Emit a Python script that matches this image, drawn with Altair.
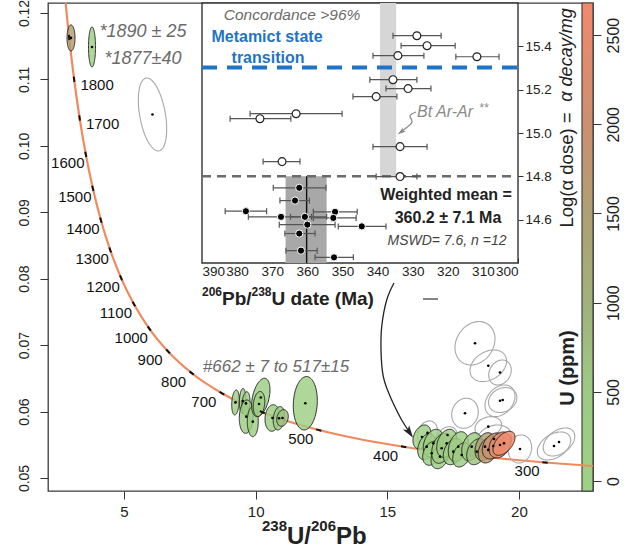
import altair as alt
import numpy as np
import pandas as pd

# ---------------- Concordia curve (Tera-Wasserburg), ages in Ma ----------------
cc_age = [276, 300, 350, 400, 450, 500, 550, 600, 700, 800, 900, 1000,
          1100, 1200, 1300, 1400, 1500, 1600, 1700, 1800, 1900, 1950, 2000]
cc_x = [22.860, 20.992, 17.923, 15.621, 13.831, 12.399, 11.228, 10.252, 8.718,
        7.568, 6.675, 5.959, 5.375, 4.888, 4.476, 4.123, 3.817, 3.550, 3.314,
        3.105, 2.917, 2.831, 2.749]
cc_y = [0.051787, 0.052333, 0.053499, 0.054701, 0.055940, 0.057220, 0.058539,
        0.059901, 0.062756, 0.065800, 0.069044, 0.072500, 0.076187, 0.080122,
        0.084322, 0.088807, 0.093597, 0.098716, 0.104186, 0.110036, 0.116293,
        0.119583, 0.122987]
tick_ages = [300, 400, 500, 600, 700, 800, 900, 1000, 1100, 1200, 1300, 1400,
             1500, 1600, 1700, 1800, 1900]
label_right_ages = [1800, 1700]
label_left_ages = [1600, 1500, 1400, 1300, 1200, 1100, 1000, 900, 800, 700, 500, 400, 300]

# ---------------- U-coloured error ellipses ----------------
col_id = ["E1", "E2", "M1", "M2", "M3", "M4", "M5", "M6", "M7", "M8", "M9", "M10", "M11",
          "C0", "C1", "C2", "C9", "C8", "C3", "C4", "C5", "C6", "C7", "C10", "C11",
          "C12", "C13", "C14", "C15", "C16"]
col_x = [2.988, 3.785, 9.235, 9.508, 9.634, 9.645, 9.892, 10.196, 10.128, 10.640, 10.887,
         11.020, 11.886, 16.318, 16.497, 16.748, 16.687, 17.002, 17.067, 17.257, 17.507,
         17.697, 17.826, 18.206, 18.396, 18.711, 18.836, 19.026, 19.281, 19.433]
col_y = [0.11624, 0.11488, 0.06137, 0.06159, 0.06122, 0.05923, 0.05848, 0.06212, 0.06114,
         0.05903, 0.05899, 0.05903, 0.06125, 0.05617, 0.05471, 0.05522, 0.05372, 0.05321,
         0.05447, 0.05522, 0.05396, 0.05471, 0.05346, 0.05471, 0.05396, 0.05471, 0.05422,
         0.05482, 0.05497, 0.05522]
col_sx = [0.152, 0.133, 0.144, 0.125, 0.152, 0.266, 0.209, 0.349, 0.220, 0.285, 0.220,
          0.220, 0.456, 0.342, 0.342, 0.380, 0.342, 0.342, 0.380, 0.380, 0.380, 0.380,
          0.342, 0.380, 0.380, 0.380, 0.380, 0.418, 0.418, 0.418]
col_sy = [0.00196, 0.00301, 0.00188, 0.00188, 0.00176, 0.00251, 0.00226, 0.00289, 0.00188,
          0.00200, 0.00176, 0.00125, 0.00402, 0.00181, 0.00196, 0.00211, 0.00181, 0.00181,
          0.00226, 0.00211, 0.00196, 0.00226, 0.00181, 0.00211, 0.00196, 0.00211, 0.00196,
          0.00196, 0.00196, 0.00181]
col_rho = [0.0, 0.0, 0.2, 0.1, 0.2, 0.1, 0.0, 0.4, 0.2, 0.1, 0.2, 0.2, 0.1,
           0.3, 0.3, 0.3, 0.3, 0.3, 0.3, 0.3, 0.3, 0.3, 0.3, 0.3, 0.3, 0.3, 0.3, 0.3, 0.3, 0.5]
col_U = [1600, 250, 300, 280, 320, 260, 300, 280, 350, 300, 450, 700, 250,
         200, 250, 300, 250, 300, 350, 400, 300, 350, 400, 500, 700, 1400, 1700, 2000, 2300, 2600]

# ---------------- grey (discordant) ellipses ----------------
gr_id = ["E3", "R1", "R2", "R3", "R4", "R5", "R6", "R7", "R8", "R9", "R10", "R11", "R12", "R13"]
gr_x = [6.083, 18.331, 18.836, 19.281, 19.281, 19.383, 17.951, 18.836, 19.053, 20.040,
        21.332, 21.522, 16.527, 17.287]
gr_y = [0.10472, 0.07028, 0.06689, 0.06588, 0.06162, 0.06174, 0.05974, 0.05772, 0.05587,
        0.05437, 0.05482, 0.05542, 0.05678, 0.05647]
gr_sx = [0.539, 0.760, 0.695, 0.429, 0.570, 0.539, 0.505, 0.505, 0.665, 0.444, 0.634, 0.600,
         0.380, 0.349]
gr_sy = [0.00549, 0.00327, 0.00238, 0.00188, 0.00238, 0.00188, 0.00226, 0.00151, 0.00211,
         0.00211, 0.00211, 0.00211, 0.00181, 0.00125]
gr_rho = [-0.4, 0.2, 0.3, 0.2, 0.3, 0.2, 0.1, 0.2, 0.2, 0.1, 0.4, 0.4, 0.2, 0.2]

# ---------------- inset: 206Pb/238U dates vs log alpha dose ----------------
open_date = [328.8, 325.9, 334.2, 311.7, 335.6, 331.3, 340.4, 363.2, 373.5, 333.6, 367.2, 333.6]
open_lo = [335.6, 333.3, 341.3, 317.7, 342.2, 337.6, 347.0, 376.3, 382.0, 341.3, 372.6, 340.4]
open_hi = [321.9, 317.9, 326.8, 305.4, 328.8, 324.8, 334.5, 350.1, 364.7, 325.9, 362.1, 328.8]
open_dose = [15.449, 15.403, 15.357, 15.352, 15.246, 15.205, 15.168, 15.089, 15.066, 14.937,
             14.868, 14.799]
fill_date = [362.3, 363.5, 377.5, 352.1, 367.5, 360.7, 352.6, 360.0, 344.5, 362.3, 361.8, 352.4]
fill_lo = [369.7, 367.8, 383.4, 358.3, 376.8, 364.8, 358.3, 368.0, 351.2, 366.4, 366.1, 357.8]
fill_hi = [354.7, 359.4, 371.6, 345.8, 358.8, 354.5, 346.1, 352.1, 337.6, 357.8, 357.2, 346.9]
fill_dose = [14.747, 14.688, 14.639, 14.636, 14.613, 14.613, 14.608, 14.577, 14.569, 14.536,
             14.457, 14.426]
metamict_dose = 15.302
concord_dose = 14.80
ar_band = [334.7, 339.3]
wm_band = [354.5, 366.2]
wm_mean = 360.2

# ---------------- annotation arrows (data coordinates) ----------------
arrow_x = [15.255, 14.978, 14.788, 14.761, 14.849, 15.168, 15.547, 15.882]
arrow_y = [0.07935, 0.07679, 0.07277, 0.06926, 0.06524, 0.06174, 0.05873, 0.05669]
bt_x = [329.05, 330.76, 330.19, 331.9, 333.18]
bt_y = [15.097, 15.079, 15.051, 15.023, 15.007]

# ---------------- scale domains / colour ramp ----------------
main_x_domain = [2.114, 22.813]
main_y_domain = [0.04804, 0.1215]
inset_x_domain = [390, 300]
inset_y_domain = [14.40, 15.60]
u_bar_domain = [-56, 2680]
u_stops = [0, 500, 1000, 1500, 2000, 2680]
u_colors = ["#9ed184", "#9dca84", "#a1b17c", "#af9f74", "#cc8f6f", "#f2896b"]

# ---------------- styling ----------------
W, H = 545, 488
SANS = "Liberation Sans, Arial, sans-serif"
NARROW = "Liberation Sans Narrow, Liberation Sans, Arial, sans-serif"
ORANGE = "#f08a5e"
GREYTXT = "#6b6b6b"
ONE = pd.DataFrame({"k": [0]})

xs_main = alt.Scale(domain=main_x_domain, nice=False, zero=False)
ys_main = alt.Scale(domain=main_y_domain, nice=False, zero=False)
xs_in = alt.Scale(domain=inset_x_domain, range=[154, 470], nice=False, zero=False)
ys_in = alt.Scale(domain=inset_y_domain, range=[260, 0], nice=False, zero=False)
ys_bar = alt.Scale(domain=u_bar_domain, nice=False, zero=False)
u_scale = alt.Scale(domain=u_stops, range=u_colors, interpolate="rgb")

ax_main_x = alt.Axis(
    orient="bottom", values=[5, 10, 15, 20], title="", tickSize=8, labelPadding=5,
    labelFontSize=15, labelFont=SANS, labelColor="#222", tickColor="#333",
    domain=False, grid=False)
ax_main_y = alt.Axis(
    orient="left", values=[0.05, 0.06, 0.07, 0.08, 0.09, 0.10, 0.11, 0.12], format=".2f",
    labelAngle=270, labelAlign="center", labelBaseline="bottom", tickSize=8,
    labelPadding=9, labelFontSize=14, labelFont=SANS, labelColor="#222",
    tickColor="#333", domain=False, grid=False, title="")
ax_in_x = alt.Axis(
    orient="bottom", offset=-233, values=list(range(300, 391, 10)), tickSize=5,
    labelPadding=1, labelFontSize=13.5, labelFont=SANS, labelColor="#222", tickColor="#333",
    domain=False, grid=False, title="")
ax_in_y = alt.Axis(
    orient="right", offset=-75, values=[14.6, 14.8, 15.0, 15.2, 15.4], format=".1f",
    tickSize=5, labelPadding=2, labelFontSize=13.5, labelFont=SANS, labelColor="#222",
    tickColor="#333", domain=False, grid=False, title="")
ax_bar = alt.Axis(
    orient="right", values=[0, 500, 1000, 1500, 2000, 2500], format="d", tickSize=8,
    labelAngle=270, labelAlign="center", labelBaseline="top", labelPadding=4,
    labelFontSize=16, labelFont=SANS, labelColor="#222", tickColor="#333",
    domain=False, grid=False, title="")


def txt(text, x, y, size, color="#222", weight="normal", style="normal", font=SANS,
        align="center", baseline="alphabetic", angle=0):
    props = dict(text=text, fontSize=size, color=color, fontWeight=weight, fontStyle=style,
                 font=font, align=align, baseline=baseline)
    if angle:
        props["angle"] = angle
    return alt.Chart(ONE).mark_text(**props).encode(x=alt.value(x), y=alt.value(y))


def ellipse_df(ids, xs, ys, sxs, sys_, rhos, us=None):
    th = np.linspace(np.pi, 0.0, 48)
    c, s = np.cos(th), np.sin(th)
    rows = []
    for k in range(len(ids)):
        mid = ys[k] + rhos[k] * sys_[k] * c
        half = sys_[k] * np.sqrt(1 - rhos[k] ** 2) * s
        for j in range(len(th)):
            rows.append({"id": ids[k], "x": xs[k] + sxs[k] * c[j],
                         "lo": mid[j] - half[j], "hi": mid[j] + half[j],
                         "U": us[k] if us is not None else 0})
    return pd.DataFrame(rows)


# ================= colour bar =================
bar_df = pd.DataFrame({"lo": [u_bar_domain[0]], "hi": [u_bar_domain[1]]})
span = u_bar_domain[1] - u_bar_domain[0]
stops = [alt.GradientStop(color=u_colors[0], offset=0)] + [
    alt.GradientStop(color=c, offset=(u - u_bar_domain[0]) / span) for u, c in zip(u_stops, u_colors)]
bar = alt.Chart(bar_df).mark_rect(
    fill=alt.Gradient(gradient="linear", stops=stops, x1=0, x2=0, y1=1, y2=0),
    stroke="#444", strokeWidth=1.2
).encode(
    x=alt.value(534), x2=alt.value(545),
    y=alt.Y("lo:Q", scale=ys_bar, axis=ax_bar),
    y2="hi:Q",
)
bar_layer = alt.layer(
    bar,
    txt("U (ppm)", 520, 365, 20, weight="bold", baseline="middle", angle=270),
    txt("Log(α dose) =", 519, 167, 18.5, baseline="middle", angle=270),
    txt("α decay/mg", 519, 52, 18, style="italic", baseline="middle", angle=270),
    # main x-axis title 238U/206Pb with real superscripts
    txt("238", 214, 528, 15, weight="bold", align="left"),
    txt("U/", 239, 541, 24, weight="bold", align="left"),
    txt("206", 263, 528, 15, weight="bold", align="left"),
    txt("Pb", 288, 541, 24, weight="bold", align="left"),
)

# ================= main concordia plot =================
curve_df = pd.DataFrame({"age": cc_age, "x": cc_x, "y": cc_y})
kx = W / (main_x_domain[1] - main_x_domain[0])
ky = H / (main_y_domain[1] - main_y_domain[0])
tick_rows = []
for a in tick_ages:
    i = cc_age.index(a)
    dxp = (cc_x[i + 1] - cc_x[i - 1]) * kx
    dyp = -(cc_y[i + 1] - cc_y[i - 1]) * ky
    tick_rows.append({"age": a, "x": cc_x[i], "y": cc_y[i],
                      "ang": float(np.degrees(np.arctan2(dyp, dxp)) % 180)})
tick_df = pd.DataFrame(tick_rows)
lab_r = tick_df[tick_df.age.isin(label_right_ages)]
lab_l = tick_df[tick_df.age.isin(label_left_ages)]

# every layer of a group carries the same axis definition so the shared axis merges cleanly
X = lambda f: alt.X(f, scale=xs_main, axis=ax_main_x)
Y = lambda f: alt.Y(f, scale=ys_main, axis=ax_main_y)

curve = alt.Chart(curve_df).mark_line(color=ORANGE, strokeWidth=2.2, clip=True,
                                      interpolate="monotone").encode(x=X("x:Q"), y=Y("y:Q"))
ticks = alt.Chart(tick_df).mark_point(shape="M-1,0L1,0", size=28, strokeWidth=2,
                                      color="#111", opacity=1).encode(
    x=X("x:Q"), y=Y("y:Q"), angle=alt.Angle("ang:Q", scale=None))
labels_l = alt.Chart(lab_l).mark_text(dx=-18, dy=9, fontSize=15, font=SANS, color="#111").encode(
    x=X("x:Q"), y=Y("y:Q"), text=alt.Text("age:Q", format="d"))
labels_r = alt.Chart(lab_r).mark_text(dx=23, dy=6, fontSize=15, font=SANS, color="#111").encode(
    x=X("x:Q"), y=Y("y:Q"), text=alt.Text("age:Q", format="d"))

grey_ell = alt.Chart(ellipse_df(gr_id, gr_x, gr_y, gr_sx, gr_sy, gr_rho)).mark_area(
    color="#aaaaaa", fillOpacity=0, stroke="#a8a8a8", strokeWidth=1.1).encode(
    x=X("x:Q"), y=Y("lo:Q"), y2="hi:Q", detail="id:N")
col_ell = alt.Chart(ellipse_df(col_id, col_x, col_y, col_sx, col_sy, col_rho, col_U)).mark_area(
    fillOpacity=0.82, stroke="#1c1c1c", strokeWidth=0.9).encode(
    x=X("x:Q"), y=Y("lo:Q"), y2="hi:Q", detail="id:N",
    color=alt.Color("U:Q", scale=u_scale, legend=None))
centers = pd.DataFrame({"x": col_x + gr_x, "y": col_y + gr_y})
dots = alt.Chart(centers).mark_circle(size=7, color="#000", opacity=1).encode(
    x=X("x:Q"), y=Y("y:Q"))

arrow_df = pd.DataFrame({"k": list(range(len(arrow_x))), "x": arrow_x, "y": arrow_y})
arrow = alt.Chart(arrow_df).mark_line(color="#222", strokeWidth=1.3, interpolate="natural").encode(
    x=X("x:Q"), y=Y("y:Q"), order="k:Q")
DART = "M0,-1L0.6,1L0,0.5L-0.6,1Z"
arrow_head = alt.Chart(ONE).mark_point(shape=DART, size=160, filled=True, color="#222",
                                       opacity=1, angle=146).encode(
    x=alt.value(361.5), y=alt.value(429.5))

main_layer = alt.layer(
    curve, grey_ell, col_ell, ticks, dots, labels_l, labels_r,
    txt("*1890 ± 25", 95, 34, 18, color=GREYTXT, style="italic", font=NARROW),
    txt("*1877±40", 95, 61, 18, color=GREYTXT, style="italic", font=NARROW),
    txt("#662 ± 7 to 517±15", 228, 369, 17, color=GREYTXT, style="italic", font=NARROW),
    arrow, arrow_head,
)

# ================= inset =================
XI = lambda f: alt.X(f, scale=xs_in, axis=ax_in_x)
YI = lambda f: alt.Y(f, scale=ys_in, axis=ax_in_y)
frame_df = pd.DataFrame({"x1": [inset_x_domain[0]], "x2": [inset_x_domain[1]],
                         "y1": [inset_y_domain[0]], "y2": [inset_y_domain[1]]})
frame = alt.Chart(frame_df).mark_rect(fill="white", stroke="#333", strokeWidth=1.4).encode(
    x=XI("x1:Q"), x2="x2:Q", y=YI("y1:Q"), y2="y2:Q")
band_df = pd.DataFrame({"x1": [ar_band[0], wm_band[0]], "x2": [ar_band[1], wm_band[1]],
                        "y1": [concord_dose, inset_y_domain[0]],
                        "y2": [inset_y_domain[1], concord_dose],
                        "kind": ["ar", "wm"]})
bands = alt.Chart(band_df).mark_rect().encode(
    x=XI("x1:Q"), x2="x2:Q", y=YI("y1:Q"), y2="y2:Q",
    color=alt.Color("kind:N", scale=alt.Scale(domain=["ar", "wm"], range=["#d6d6d6", "#a8a8a8"]),
                    legend=None))
mean_df = pd.DataFrame({"x": [wm_mean], "y1": [inset_y_domain[0]], "y2": [concord_dose]})
mean_line = alt.Chart(mean_df).mark_rule(color="#111", strokeWidth=1.4).encode(
    x=XI("x:Q"), y=YI("y1:Q"), y2="y2:Q")
hl_df = pd.DataFrame({"x1": [inset_x_domain[0]], "x2": [inset_x_domain[1]],
                      "yb": [metamict_dose], "yg": [concord_dose]})
blue_line = alt.Chart(hl_df).mark_rule(color="#1f74c6", strokeWidth=4, strokeDash=[15, 10]).encode(
    x=XI("x1:Q"), x2="x2:Q", y=YI("yb:Q"))
grey_line = alt.Chart(hl_df).mark_rule(color="#6a6a6a", strokeWidth=2.5, strokeDash=[9, 6]).encode(
    x=XI("x1:Q"), x2="x2:Q", y=YI("yg:Q"))

pts_df = pd.DataFrame({"date": open_date + fill_date, "lo": open_lo + fill_lo,
                       "hi": open_hi + fill_hi, "dose": open_dose + fill_dose,
                       "kind": ["open"] * len(open_date) + ["fill"] * len(fill_date)})
err = alt.Chart(pts_df).mark_rule(color="#555", strokeWidth=1.2).encode(
    x=XI("lo:Q"), x2="hi:Q", y=YI("dose:Q"))
caps_df = pd.DataFrame({"x": pts_df.lo.tolist() + pts_df.hi.tolist(),
                        "dose": pts_df.dose.tolist() * 2})
caps = alt.Chart(caps_df).mark_point(shape="M0,-1L0,1", size=36, strokeWidth=1.2,
                                     color="#555", opacity=1).encode(
    x=XI("x:Q"), y=YI("dose:Q"))
open_pts = alt.Chart(pts_df[pts_df.kind == "open"]).mark_point(
    shape="circle", filled=True, fill="white", stroke="#222", strokeWidth=1.2, size=62,
    opacity=1).encode(x=XI("date:Q"), y=YI("dose:Q"))
fill_pts = alt.Chart(pts_df[pts_df.kind == "fill"]).mark_point(
    shape="circle", filled=True, fill="#000", stroke="white", strokeWidth=1, size=52,
    opacity=1).encode(x=XI("date:Q"), y=YI("dose:Q"))

bt_df = pd.DataFrame({"k": list(range(len(bt_x))), "x": bt_x, "y": bt_y})
bt_arrow = alt.Chart(bt_df).mark_line(color="#8a8a8a", strokeWidth=1.3, interpolate="natural").encode(
    x=XI("x:Q"), y=YI("y:Q"), order="k:Q")
bt_head = alt.Chart(ONE).mark_point(shape=DART, size=70, filled=True, color="#8a8a8a",
                                    opacity=1, angle=233).encode(x=alt.value(353), y=alt.value(129))
stray = alt.Chart(ONE).mark_rule(color="#333", strokeWidth=1.2).encode(
    x=alt.value(375), x2=alt.value(390), y=alt.value(296))

inset_layer = alt.layer(
    frame, bands, mean_line, blue_line, grey_line, err, caps, open_pts, fill_pts,
    txt("Concordance >96%", 244, 17, 15.5, color=GREYTXT, style="italic", font=NARROW),
    txt("Metamict state", 219, 39, 16, color="#1f74c6", weight="bold"),
    txt("transition", 220, 60, 16, color="#1f74c6", weight="bold"),
    txt("Bt Ar-Ar", 369, 114, 16, color="#8a8a8a", style="italic", font=NARROW, align="left"),
    txt("**", 431, 109, 12, color="#8a8a8a", style="italic", font=NARROW, align="left"),
    txt("Weighted mean =", 398, 197, 16, weight="bold"),
    txt("360.2 ± 7.1 Ma", 400, 220, 16, weight="bold"),
    txt("MSWD= 7.6, n =12", 399, 242, 14, color="#444", style="italic", font=NARROW),
    # inset x-axis title 206Pb/238U date (Ma)
    txt("206", 154, 293, 12, weight="bold", align="left"),
    txt("Pb/", 174, 302, 19, weight="bold", align="left"),
    txt("238", 203.5, 293, 12, weight="bold", align="left"),
    txt("U date (Ma)", 223.5, 302, 19, weight="bold", align="left"),
    bt_arrow, bt_head, stray,
)

chart = alt.layer(bar_layer, main_layer, inset_layer).resolve_scale(
    x="independent", y="independent", color="independent"
).properties(
    width=W, height=H,
    padding={"left": 48, "top": 3, "right": 42, "bottom": 57},
    autosize=alt.AutoSizeParams(type="none"),
).configure_view(stroke="#3a3a3a", strokeWidth=1.3)

chart.save("out.html", embed_options={"renderer": "svg", "actions": False})
